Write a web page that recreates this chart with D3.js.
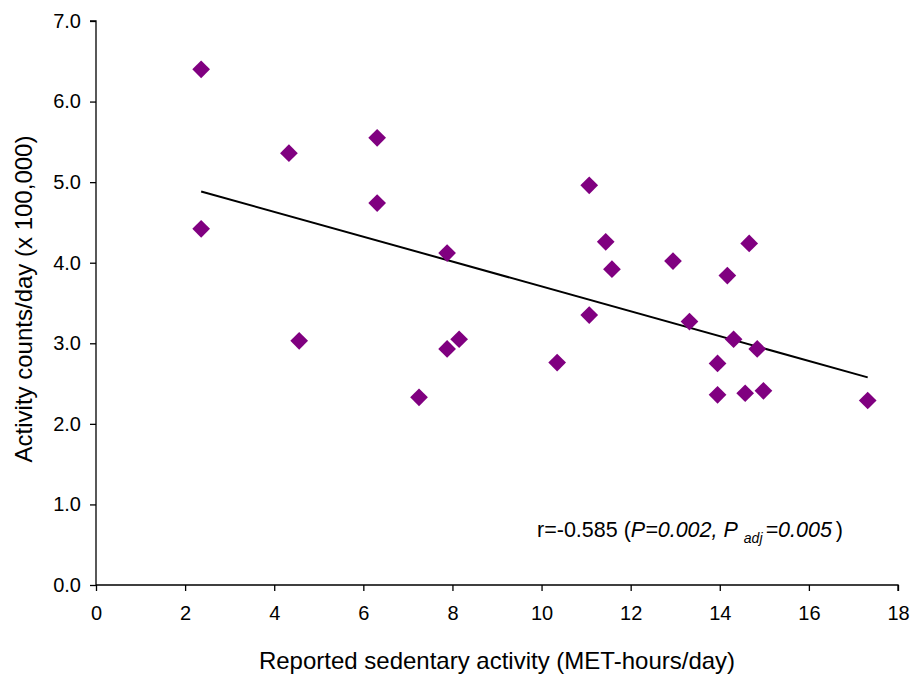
<script src="https://cdn.jsdelivr.net/npm/d3@7"></script>
<body style="margin:0;background:#fff">
<script>
    // values
    var sedentary = [2.36, 2.36, 4.33, 4.56, 6.31, 6.31, 7.25, 7.88, 7.88, 8.15, 10.35, 11.07, 11.07,
                     11.44, 11.58, 12.95, 13.32, 13.95, 13.95, 14.17, 14.31, 14.57, 14.66, 14.84, 14.98, 17.32];
    var counts = [6.40, 4.42, 5.36, 3.03, 5.55, 4.74, 2.33, 4.12, 2.93, 3.05, 2.76, 4.96, 3.35,
                  4.26, 3.92, 4.02, 3.27, 2.75, 2.36, 3.84, 3.05, 2.38, 4.24, 2.93, 2.41, 2.29];
    var xTicks = [0, 2, 4, 6, 8, 10, 12, 14, 16, 18];
    var yTicks = [0, 1, 2, 3, 4, 5, 6, 7];
    var fitSlope = -0.1543;
    var fitIntercept = 5.249;

    var W = 918, H = 677;
    var font = "'Liberation Sans', Arial, sans-serif";

    var svg = d3.select("body").append("svg")
        .attr("width", W)
        .attr("height", H)
        .style("display", "block");

    var x = d3.scaleLinear().domain([0, 18]).range([96, 898]);
    var y = d3.scaleLinear().domain([0, 7]).range([585, 21]);

    // axes
    var xAxis = svg.append("g")
        .attr("transform", "translate(0," + y(0) + ")")
        .call(d3.axisBottom(x).tickValues(xTicks).tickSize(6).tickPadding(15).tickFormat(d3.format("d")));
    var yAxis = svg.append("g")
        .attr("transform", "translate(" + x(0) + ",0)")
        .call(d3.axisLeft(y).tickValues(yTicks).tickSize(6).tickPadding(9).tickFormat(d3.format(".1f")));

    [xAxis, yAxis].forEach(function(g) {
        g.select(".domain").attr("stroke", "#000").attr("stroke-width", 1.3);
        g.selectAll(".tick line").attr("stroke", "#000").attr("stroke-width", 1.3);
        g.selectAll("text").attr("font-family", font).attr("font-size", 20).attr("fill", "#000");
    });
    // remove the outer tick path offsets
    xAxis.select(".domain").attr("d", "M" + x(0) + ",0H" + x(18) + "V6");
    yAxis.select(".domain").attr("d", "M-6," + y(7) + "H0V" + y(0));

    // trend line over the observed range
    var xMin = d3.min(sedentary), xMax = d3.max(sedentary);
    svg.append("line")
        .attr("x1", x(xMin))
        .attr("y1", y(fitIntercept + fitSlope * xMin))
        .attr("x2", x(xMax))
        .attr("y2", y(fitIntercept + fitSlope * xMax))
        .attr("stroke", "#000")
        .attr("stroke-width", 2);

    // diamond markers
    var diamond = d3.symbol().type(d3.symbolSquare).size(157);
    svg.selectAll("path.pt")
        .data(d3.range(sedentary.length))
        .enter().append("path")
        .attr("class", "pt")
        .attr("d", diamond)
        .attr("transform", function(i) {
            return "translate(" + x(sedentary[i]) + "," + y(counts[i]) + ") rotate(45)";
        })
        .attr("fill", "#800080");

    // axis titles
    svg.append("text")
        .attr("x", 497)
        .attr("y", 669)
        .attr("text-anchor", "middle")
        .attr("font-family", font)
        .attr("font-size", 24)
        .text("Reported sedentary activity (MET-hours/day)");

    svg.append("text")
        .attr("transform", "translate(32,299) rotate(-90)")
        .attr("text-anchor", "middle")
        .attr("font-family", font)
        .attr("font-size", 24)
        .text("Activity counts/day (x 100,000)");

    // correlation note
    var note = svg.append("text")
        .attr("x", 537)
        .attr("y", 537)
        .attr("font-family", font)
        .attr("font-size", 21.5);
    note.append("tspan").text("r=-0.585 (");
    note.append("tspan").attr("font-style", "italic").text("P=0.002, P");
    note.append("tspan").attr("font-style", "italic").attr("font-size", 14).attr("dy", 6).attr("dx", 6).text("adj");
    note.append("tspan").attr("font-style", "italic").attr("dy", -6).attr("dx", 3).text("=0.005");
    note.append("tspan").attr("dx", 4).text(")");
</script>
</body>
